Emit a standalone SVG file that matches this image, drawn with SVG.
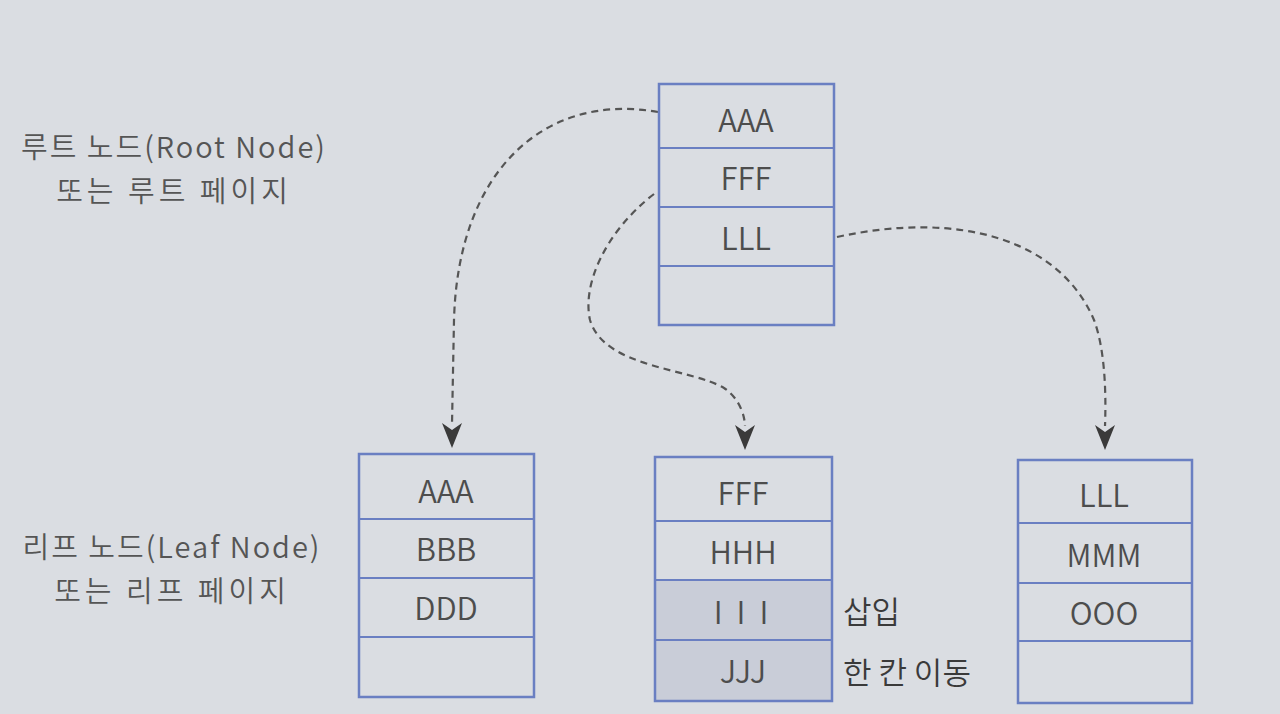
<svg xmlns="http://www.w3.org/2000/svg" width="1280" height="714" viewBox="0 0 1280 714">
<defs>
<style>
.box{fill:none;stroke:#6a7fc2;stroke-width:2.5}
.row{stroke:#6a7fc2;stroke-width:2}
.shade{fill:#c9cdd8}
.t{font-family:"Noto Sans CJK KR","Open Sans",sans-serif;font-size:31px;font-weight:350;fill:#4d4d4d;text-anchor:middle}
.lbl{font-family:"Noto Sans CJK KR","Noto Sans",sans-serif;font-size:29px;font-weight:350;fill:#555;text-anchor:middle}
.note{font-family:"Noto Sans CJK KR","Noto Sans",sans-serif;font-size:31px;font-weight:350;fill:#3a3a3a}
.link{fill:none;stroke:#555;stroke-width:2.2;stroke-dasharray:7,5}
.head{fill:#3a3a3a}
</style>
</defs>
<rect x="0" y="0" width="1280" height="714" fill="#dadde2"/>

<g id="labels">
<text class="lbl" x="174" y="158" letter-spacing="2">루트 노드(Root Node)</text>
<text class="lbl" x="174" y="202" letter-spacing="4">또는 루트 페이지</text>
<text class="lbl" x="172" y="558" letter-spacing="2">리프 노드(Leaf Node)</text>
<text class="lbl" x="172" y="602" letter-spacing="4">또는 리프 페이지</text>
</g>

<g id="connectors">
<path class="link" d="M658,112 C545,92 458,170 454,320 L452,424"/>
<path class="link" d="M654,194 C605,232 582,285 590,320 C604,368 690,368 724,388 C742,400 745,420 745,426"/>
<path class="link" d="M837,237 C960,210 1060,240 1094,320 C1106,352 1106,400 1105,426"/>
<path class="head" d="M442,423 L452,430 L462,423 L452,448 Z"/>
<path class="head" d="M735,425 L745,432 L755,425 L745,450 Z"/>
<path class="head" d="M1095,425 L1105,432 L1115,425 L1105,450 Z"/>
</g>

<g id="root">
<rect class="box" x="659" y="84" width="175" height="241"/>
<line class="row" x1="659" y1="148" x2="834" y2="148"/>
<line class="row" x1="659" y1="207" x2="834" y2="207"/>
<line class="row" x1="659" y1="266" x2="834" y2="266"/>
<text class="t" x="746" y="132">AAA</text>
<text class="t" x="746" y="190">FFF</text>
<text class="t" x="746" y="250">LLL</text>
</g>

<g id="leaf1">
<rect class="box" x="359" y="454" width="175" height="243"/>
<line class="row" x1="359" y1="519" x2="534" y2="519"/>
<line class="row" x1="359" y1="578" x2="534" y2="578"/>
<line class="row" x1="359" y1="637" x2="534" y2="637"/>
<text class="t" x="446" y="503">AAA</text>
<text class="t" x="446" y="561">BBB</text>
<text class="t" x="446" y="620">DDD</text>
</g>

<g id="leaf2">
<rect class="shade" x="655" y="580" width="177" height="121"/>
<rect class="box" x="655" y="457" width="177" height="244"/>
<line class="row" x1="655" y1="521" x2="832" y2="521"/>
<line class="row" x1="655" y1="580" x2="832" y2="580"/>
<line class="row" x1="655" y1="640" x2="832" y2="640"/>
<text class="t" x="743" y="505">FFF</text>
<text class="t" x="743" y="564">HHH</text>
<text class="t" x="748" y="624" letter-spacing="14">III</text>
<text class="t" x="743" y="683">JJJ</text>
<text class="note" x="843" y="623">삽입</text>
<text class="note" x="843" y="684">한 칸 이동</text>
</g>

<g id="leaf3">
<rect class="box" x="1018" y="460" width="174" height="243"/>
<line class="row" x1="1018" y1="523" x2="1192" y2="523"/>
<line class="row" x1="1018" y1="583" x2="1192" y2="583"/>
<line class="row" x1="1018" y1="641" x2="1192" y2="641"/>
<text class="t" x="1104" y="507">LLL</text>
<text class="t" x="1104" y="567">MMM</text>
<text class="t" x="1104" y="625">OOO</text>
</g>
</svg>
